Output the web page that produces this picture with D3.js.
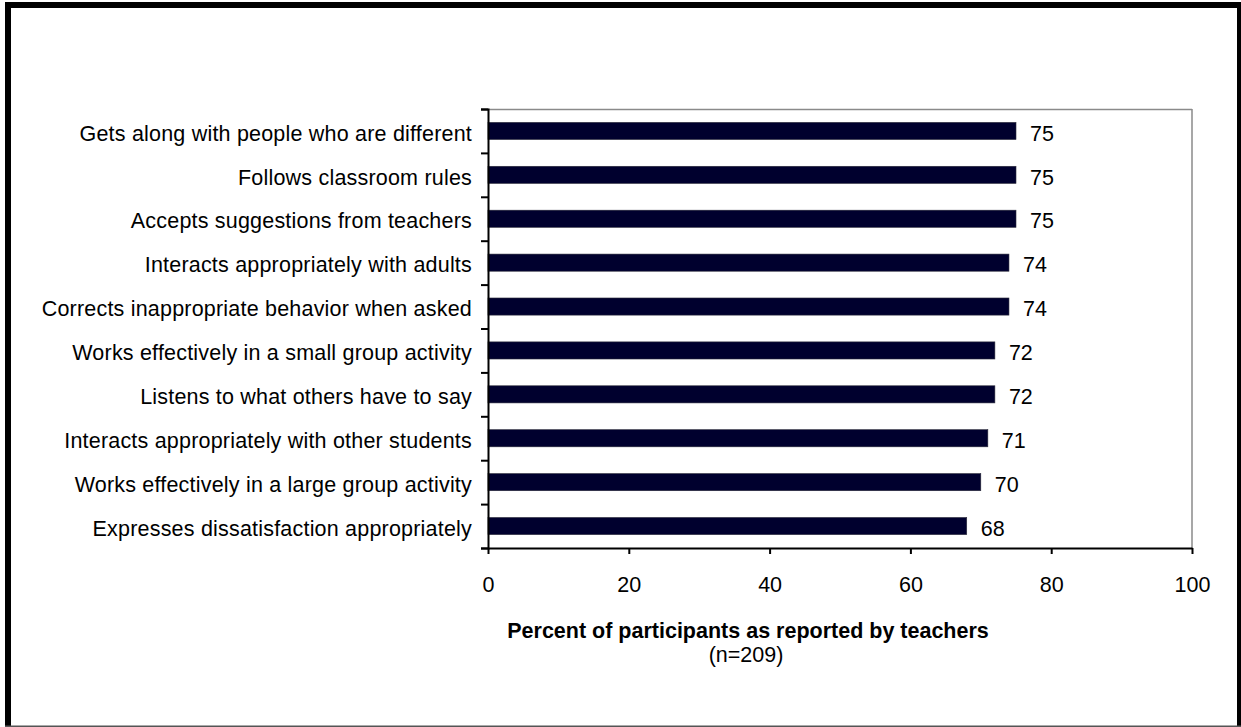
<!DOCTYPE html>
<html>
<head>
<meta charset="utf-8">
<script src="https://cdn.jsdelivr.net/npm/d3@7"></script>
<style>
  html, body { margin: 0; padding: 0; background: #fff; }
  svg { display: block; }
  text { font-family: "Liberation Sans", Arial, sans-serif; fill: #000; }
</style>
</head>
<body>
<svg id="chart" width="1241" height="727"></svg>
<script>
const categories = [
  "Gets along with people who are different",
  "Follows classroom rules",
  "Accepts suggestions from teachers",
  "Interacts appropriately with adults",
  "Corrects inappropriate behavior when asked",
  "Works effectively in a small group activity",
  "Listens to what others have to say",
  "Interacts appropriately with other students",
  "Works effectively in a large group activity",
  "Expresses dissatisfaction appropriately"
];
const values = [75, 75, 75, 74, 74, 72, 72, 71, 70, 68];
const xTicks = [0, 20, 40, 60, 80, 100];
const xTitle = "Percent of participants as reported by teachers";
const xSubtitle = "(n=209)";

const W = 1241, H = 727;
const plot = { left: 488, right: 1192, top: 109, bottom: 548 };
const svg = d3.select("#chart");

// outer frame
svg.append("rect").attr("x", 0).attr("y", 0).attr("width", W).attr("height", H).attr("fill", "#fff");
svg.append("rect").attr("x", 5).attr("y", 2).attr("width", W - 5).attr("height", 6).attr("fill", "#000");
svg.append("rect").attr("x", 5).attr("y", 2).attr("width", 6).attr("height", H - 2).attr("fill", "#000");
svg.append("rect").attr("x", 1237).attr("y", 2).attr("width", 4).attr("height", H - 2).attr("fill", "#000");
svg.append("rect").attr("x", 5).attr("y", 725.5).attr("width", W - 5).attr("height", 1.5).attr("fill", "#555");

const x = d3.scaleLinear().domain([0, 100]).range([plot.left, plot.right]);
const y = d3.scaleBand().domain(categories).range([plot.top, plot.bottom])
  .paddingInner(0.61).paddingOuter(0.305);
const yEdge = d3.scaleLinear().domain([0, categories.length]).range([plot.top, plot.bottom]);

// plot border (top & right gray)
svg.append("line").attr("x1", plot.left).attr("x2", plot.right).attr("y1", plot.top + 0.5).attr("y2", plot.top + 0.5)
  .attr("stroke", "#8a8a8a").attr("stroke-width", 1.5);
svg.append("line").attr("x1", plot.right).attr("x2", plot.right).attr("y1", plot.top).attr("y2", plot.bottom)
  .attr("stroke", "#8a8a8a").attr("stroke-width", 1.5);

// bars
svg.append("g").selectAll("rect").data(categories).join("rect")
  .attr("x", x(0))
  .attr("y", d => y(d))
  .attr("width", (d, i) => x(values[i]) - x(0))
  .attr("height", y.bandwidth())
  .attr("fill", "#00002e")
  .attr("stroke", "#2a2a3a")
  .attr("stroke-width", 0.6);

// value labels
svg.append("g").selectAll("text").data(categories).join("text")
  .attr("x", (d, i) => x(values[i]) + 14)
  .attr("y", d => y(d) + y.bandwidth() / 2)
  .attr("dy", "0.45em")
  .attr("font-size", 21.5)
  .text((d, i) => values[i]);

// y axis (ticks at category boundaries)
const yAxis = svg.append("g").attr("transform", `translate(${plot.left},0)`)
  .call(d3.axisLeft(yEdge).tickValues(d3.range(categories.length + 1)).tickSize(7).tickFormat(""));
yAxis.select(".domain").attr("stroke", "#000").attr("stroke-width", 2);
yAxis.selectAll(".tick line").attr("stroke", "#000").attr("stroke-width", 2);

// category labels
svg.append("g").selectAll("text").data(categories).join("text")
  .attr("x", plot.left - 16)
  .attr("y", d => y(d) + y.bandwidth() / 2)
  .attr("dy", "0.45em")
  .attr("text-anchor", "end")
  .attr("font-size", 21.5)
  .attr("letter-spacing", "0.2px")
  .text(d => d);

// x axis
const xAxis = svg.append("g").attr("transform", `translate(0,${plot.bottom})`)
  .call(d3.axisBottom(x).tickValues(xTicks).tickSize(6).tickSizeOuter(0).tickPadding(29));
xAxis.select(".domain").attr("stroke", "#000").attr("stroke-width", 2);
xAxis.selectAll(".tick line").attr("stroke", "#000").attr("stroke-width", 2);
xAxis.selectAll(".tick text").attr("font-size", 21.5).attr("font-family", "Liberation Sans, Arial, sans-serif")
  .attr("fill", "#000").attr("dy", "0").attr("y", 44);

// axis titles
svg.append("text").attr("x", 748).attr("y", 638).attr("text-anchor", "middle")
  .attr("font-size", 21.5).attr("font-weight", "bold").text(xTitle);
svg.append("text").attr("x", 746).attr("y", 662).attr("text-anchor", "middle")
  .attr("font-size", 21.5).text(xSubtitle);
</script>
</body>
</html>
